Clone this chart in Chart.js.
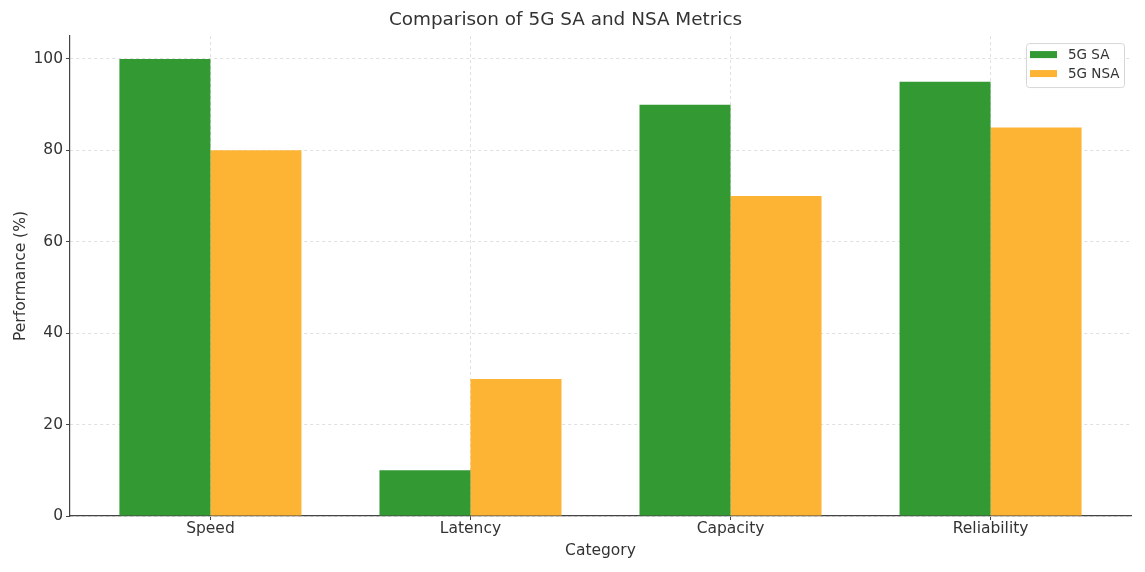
<!DOCTYPE html>
<html>
<head>
<meta charset="utf-8">
<script src="https://cdn.jsdelivr.net/npm/chart.js@4/dist/chart.umd.min.js"></script>
<style>
html,body{margin:0;padding:0;background:#fff;}
#wrap{width:1145px;height:572px;}
</style>
</head>
<body>
<div id="wrap"><canvas id="c" width="1145" height="572"></canvas></div>
<script>
const categories = ['Speed', 'Latency', 'Capacity', 'Reliability'];
const saValues = [100, 10, 90, 95];
const nsaValues = [80, 30, 70, 85];
const seriesLabels = ['5G SA', '5G NSA'];
const yTicks = [0, 20, 40, 60, 80, 100];

const FONT = "'DejaVu Sans', sans-serif";
const TXT = '#333333';
const GREEN = '#339933';
const ORANGE = '#FDB334';

const boxLegend = {
  id: 'boxLegend',
  afterDraw(chart) {
    const ctx = chart.ctx;
    const a = chart.chartArea;
    const w = 98, h = 44;
    const x = a.right - 7 - w, y = a.top + 7;
    ctx.save();
    ctx.fillStyle = 'rgba(255,255,255,0.85)';
    ctx.strokeStyle = '#d6d6d6';
    ctx.lineWidth = 1;
    ctx.beginPath();
    if (ctx.roundRect) ctx.roundRect(x + 0.5, y + 0.5, w, h, 3); else ctx.rect(x + 0.5, y + 0.5, w, h);
    ctx.fill();
    ctx.stroke();
    ctx.font = '13.5px ' + FONT;
    ctx.textBaseline = 'middle';
    chart.data.datasets.forEach((ds, i) => {
      const ry = y + 8 + i * 19;
      ctx.fillStyle = ds.backgroundColor;
      ctx.fillRect(x + 4, ry, 27, 7);
      ctx.fillStyle = TXT;
      ctx.fillText(ds.label, x + 42, ry + 4);
    });
    ctx.restore();
  }
};

new Chart(document.getElementById('c'), {
  type: 'bar',
  data: {
    datasets: [
      { label: seriesLabels[0], data: saValues.map((v, i) => ({ x: i, y: v })), backgroundColor: GREEN, borderWidth: 0 },
      { label: seriesLabels[1], data: nsaValues.map((v, i) => ({ x: i, y: v })), backgroundColor: ORANGE, borderWidth: 0 }
    ]
  },
  options: {
    responsive: false,
    animation: false,
    layout: { padding: { left: 0, right: 14, top: 0, bottom: 0 } },
    datasets: { bar: { barPercentage: 1, categoryPercentage: 0.7 } },
    plugins: {
      legend: { display: false },
      tooltip: { enabled: false },
      title: {
        display: true,
        text: 'Comparison of 5G SA and NSA Metrics',
        color: TXT,
        font: { family: FONT, size: 18.4, weight: 'normal' },
        padding: { top: 9, bottom: 5 }
      }
    },
    scales: {
      x: {
        type: 'linear',
        offset: false,
        min: -0.54,
        max: 3.54,
        afterBuildTicks: (s) => { s.ticks = categories.map((c, i) => ({ value: i })); },
        afterFit: (s) => { s.height = 56; },
        ticks: {
          color: TXT,
          font: { family: FONT, size: 15.5 },
          padding: 0,
          maxRotation: 0,
          autoSkip: false,
          callback: (v) => categories[v]
        },
        grid: { offset: false, color: '#e0e0e0', tickLength: 4, tickColor: '#444', tickBorderDash: [] },
        border: { color: '#444', width: 1.2, dash: [3, 3] },
        title: {
          display: true,
          text: 'Category',
          color: TXT,
          font: { family: FONT, size: 15.5 },
          padding: { top: 0, bottom: 12 }
        }
      },
      y: {
        min: 0,
        max: 105,
        afterBuildTicks: (s) => { s.ticks = yTicks.map(v => ({ value: v })); },
        afterFit: (s) => { s.width = 70; },
        ticks: { color: TXT, font: { family: FONT, size: 15.5 }, padding: 3 },
        grid: { color: '#e0e0e0', tickLength: 4, tickColor: '#444', tickBorderDash: [] },
        border: { color: '#444', width: 1.2, dash: [3, 3] },
        title: {
          display: true,
          text: 'Performance (%)',
          color: TXT,
          font: { family: FONT, size: 15.5 },
          padding: { top: 12, bottom: 4 }
        }
      }
    }
  },
  plugins: [boxLegend]
});
</script>
</body>
</html>
